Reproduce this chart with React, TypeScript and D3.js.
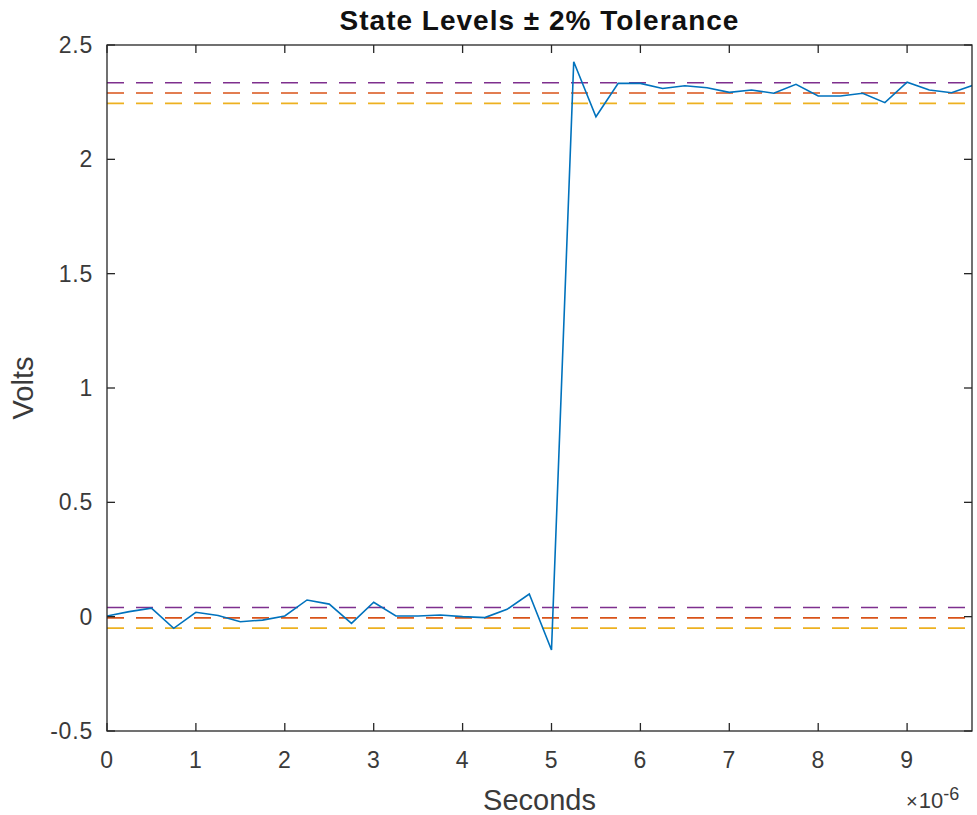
import React from "react";
import * as d3 from "d3";

const timeStepUs = 0.25;
const voltage = [
  0.003, 0.022, 0.037, -0.051, 0.019, 0.005, -0.022, -0.015, 0.003, 0.073,
  0.055, -0.029, 0.063, 0.003, 0.003, 0.007, 0.0, -0.004, 0.032, 0.099,
  -0.146, 2.427, 2.186, 2.332, 2.332, 2.31, 2.322, 2.313, 2.293, 2.303,
  2.289, 2.328, 2.277, 2.277, 2.289, 2.248, 2.337, 2.303, 2.291, 2.325,
];
const lowLevels = [0.04, -0.005, -0.05];
const highLevels = [2.335, 2.29, 2.245];
const levelColors = ["#7E2F8E", "#D95319", "#EDB120"];
const xTicks = [0, 1, 2, 3, 4, 5, 6, 7, 8, 9];
const yTicks = [-0.5, 0, 0.5, 1, 1.5, 2, 2.5];
const yTickLabels = ["-0.5", "0", "0.5", "1", "1.5", "2", "2.5"];

export default function App() {
  const W = 977, H = 815;
  const L = 107, R = 972, T = 45, B = 731;
  const x = d3.scaleLinear().domain([0, 9.73]).range([L, R]);
  const y = d3.scaleLinear().domain([-0.5, 2.5]).range([B, T]);
  const pts = voltage.map((v, i) => [i * timeStepUs, v] as [number, number]);
  const line = d3.line<[number, number]>().x(d => x(d[0])).y(d => y(d[1]));
  const axisColor = "#262626";
  const tickColor = "#3a3a3a";
  const font = "'Liberation Sans', Arial, Helvetica, sans-serif";
  const tickLen = 8;
  const levels = [...highLevels.map((v, i) => ({ v, c: levelColors[i] })), ...lowLevels.map((v, i) => ({ v, c: levelColors[i] }))];
  return (
    <svg width={W} height={H} style={{ position: "absolute", left: 0, top: 0, background: "#fff" }} fontFamily={font}>
      <rect x={0} y={0} width={W} height={H} fill="#fff" />
      <defs>
        <clipPath id="plotclip">
          <rect x={L} y={T} width={R - L} height={B - T} />
        </clipPath>
      </defs>
      <g clipPath="url(#plotclip)">
        {levels.map((l, i) => (
          <line key={i} x1={L} x2={R} y1={y(l.v)} y2={y(l.v)} stroke={l.c} strokeWidth={1.7} strokeDasharray="17 12" />
        ))}
        <path d={line(pts) || ""} fill="none" stroke="#0072BD" strokeWidth={1.6} />
      </g>
      <rect x={L} y={T} width={R - L} height={B - T} fill="none" stroke={axisColor} strokeWidth={1.3} />
      {xTicks.map(t => (
        <g key={t}>
          <line x1={x(t)} x2={x(t)} y1={B} y2={B - tickLen} stroke={axisColor} strokeWidth={1.3} />
          <line x1={x(t)} x2={x(t)} y1={T} y2={T + tickLen} stroke={axisColor} strokeWidth={1.3} />
          <text x={x(t)} y={B + 37} textAnchor="middle" fontSize={23} letterSpacing={0.8} fill={tickColor}>{t}</text>
        </g>
      ))}
      {yTicks.map((t, i) => (
        <g key={t}>
          <line x1={L} x2={L + tickLen} y1={y(t)} y2={y(t)} stroke={axisColor} strokeWidth={1.3} />
          <line x1={R} x2={R - tickLen} y1={y(t)} y2={y(t)} stroke={axisColor} strokeWidth={1.3} />
          <text x={L - 14} y={y(t) + 8} textAnchor="end" fontSize={23} letterSpacing={0.8} fill={tickColor}>{yTickLabels[i]}</text>
        </g>
      ))}
      <text x={(L + R) / 2} y={30} textAnchor="middle" fontSize={28} fontWeight="bold" letterSpacing={1} fill="#111">State Levels ± 2% Tolerance</text>
      <text x={(L + R) / 2} y={810} textAnchor="middle" fontSize={29} fill={tickColor}>Seconds</text>
      <text transform={`translate(33, ${(T + B) / 2}) rotate(-90)`} textAnchor="middle" fontSize={29} fill={tickColor}>Volts</text>
      <text x={906} y={808} fontSize={22} fill={tickColor}>
        <tspan fontSize={20}>×</tspan><tspan dx={1}>10</tspan><tspan dy={-8} fontSize={18}>-6</tspan>
      </text>
    </svg>
  );
}
